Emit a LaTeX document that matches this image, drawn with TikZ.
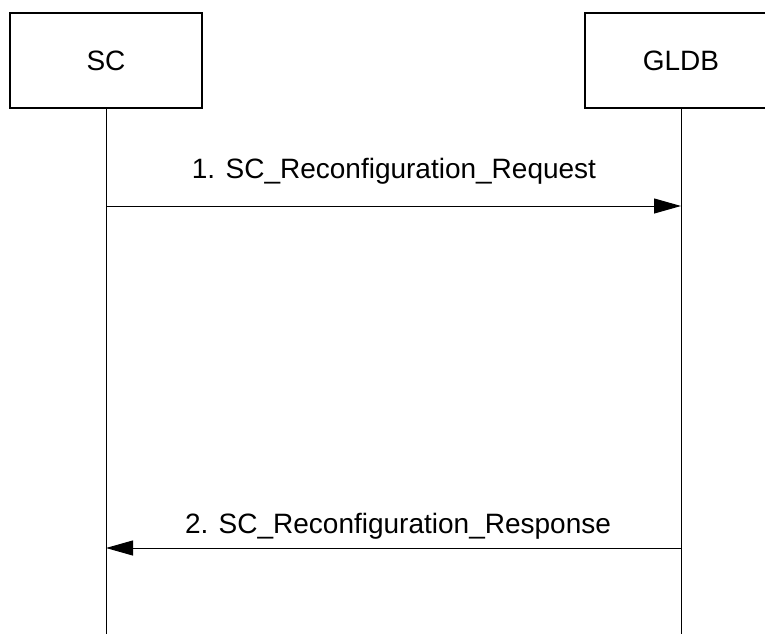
\documentclass[tikz,border=0pt]{standalone}
\usepackage{fontspec}
\setmainfont{Liberation Sans}
\usetikzlibrary{arrows.meta,positioning}

\begin{document}
\begin{tikzpicture}[x=1pt,y=-1pt,>={Triangle[length=27pt,width=15pt]},
    entity/.style={draw,line width=1.2pt,minimum width=192pt,minimum height=95pt,inner sep=0pt,font=\fontsize{28}{32}\selectfont},
    msglabel/.style={font=\fontsize{28}{32}\selectfont,inner sep=0pt}]
  \clip (0,0) rectangle (765,634);
  \node[entity] (sc) at (106,60.5) {SC};
  \node[entity] (gldb) at (681,60.5) {GLDB};
  % lifelines
  \coordinate (scend) at (106,634);
  \coordinate (gldbend) at (681,634);
  \draw[line width=1pt] (sc.south) -- (scend);
  \draw[line width=1pt] (gldb.south) -- (gldbend);
  % messages
  \coordinate (req-a) at (106,206);
  \coordinate (req-b) at (681,206);
  \coordinate (rsp-a) at (681,548);
  \coordinate (rsp-b) at (106,548);
  \draw[->,line width=1pt] (req-a) -- (req-b);
  \draw[->,line width=1pt] (rsp-a) -- (rsp-b);
  \node[msglabel] (req) at (394,171) {1. SC\_Reconfiguration\_Request};
  \node[msglabel] (rsp) at (398,526) {2. SC\_Reconfiguration\_Response};
\end{tikzpicture}
\end{document}
